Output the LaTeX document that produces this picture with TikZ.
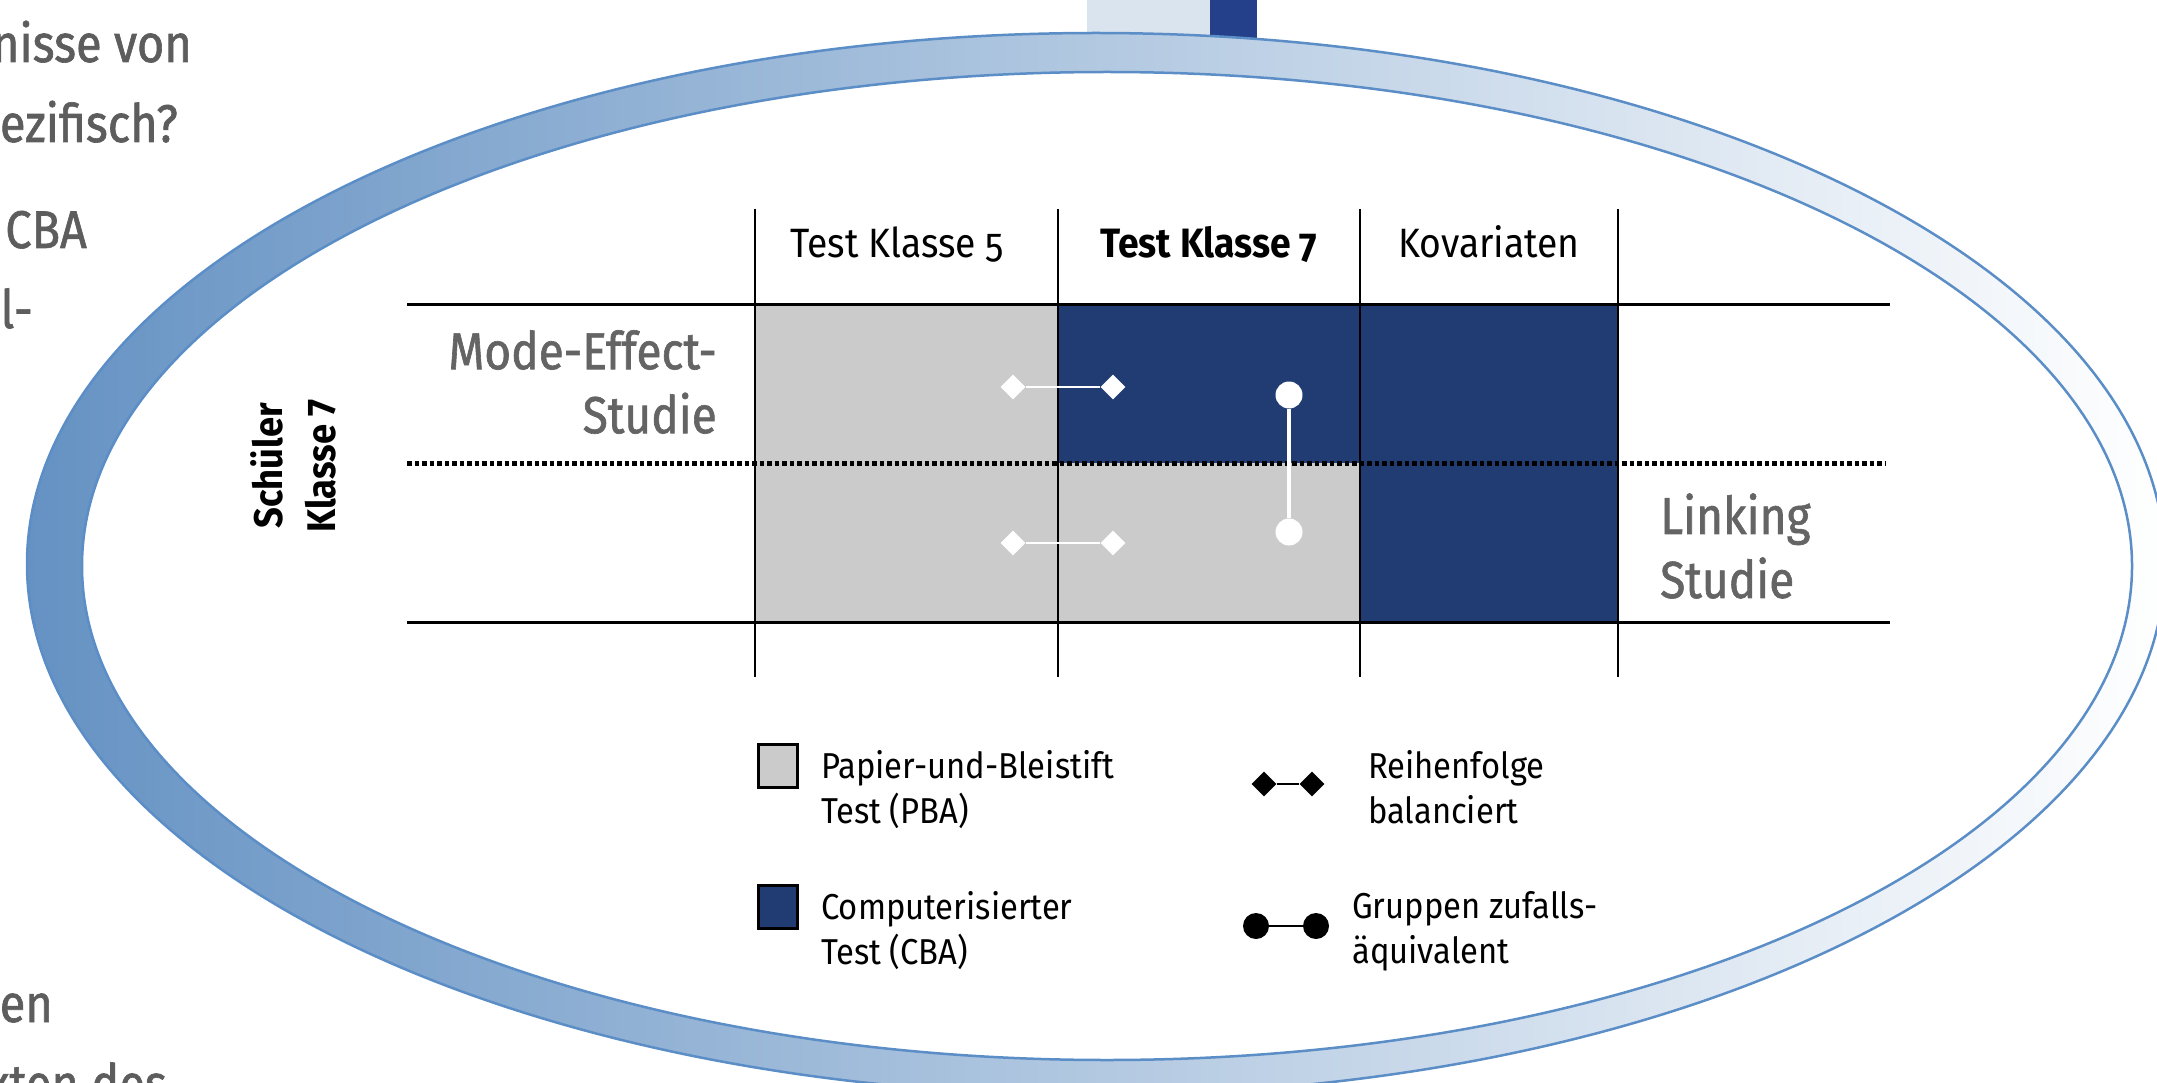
\documentclass[tikz,border=0pt]{standalone}
\usepackage{fontspec}
\setmainfont{Fira Sans}
\newfontfamily\narrowfont[FakeStretch=0.91]{Fira Sans}
\newfontfamily\studyfont[FakeStretch=0.885, FakeBold=1.2]{Fira Sans}
\usetikzlibrary{shapes.geometric}

\definecolor{navycell}{HTML}{203C73}
\definecolor{graycell}{HTML}{CBCBCB}
\definecolor{labelgray}{HTML}{646464}
\definecolor{sidegray}{HTML}{5D5D5D}
\definecolor{ringdark}{HTML}{6592C3}
\definecolor{ringmid}{HTML}{B2C8E2}
\definecolor{ringline}{HTML}{5B8DC6}
\definecolor{barlight}{HTML}{DAE4EF}
\definecolor{bardark}{HTML}{24408A}

\begin{document}
\begin{tikzpicture}[
    x = 1pt, y = -1pt,
    every node/.style = {inner sep = 0pt},
    head/.style = {font = \narrowfont\addfontfeature{Numbers = OldStyle}\fontsize{41}{48}\selectfont, anchor = base},
    study/.style = {font = \studyfont\fontsize{52}{64}\selectfont, text = labelgray},
    key/.style = {font = \narrowfont\fontsize{36}{45}\selectfont, align = left, anchor = west},
    side/.style = {font = \studyfont\fontsize{53}{80}\selectfont, text = sidegray, anchor = base east},
    swatch/.style = {draw, line width = 3pt, minimum width = 39pt, minimum height = 43pt},
    gridline/.style = {line width = 2.5pt},
    white diamond/.style = {diamond, fill = white, minimum width = 25pt, minimum height = 25pt},
    black diamond/.style = {diamond, fill = black, minimum width = 25pt, minimum height = 25pt},
    white dot/.style = {circle, fill = white, minimum size = 27pt},
    black dot/.style = {circle, fill = black, minimum size = 26pt},
  ]
  \useasboundingbox (0,0) rectangle (2157,1083);
  \clip (0,0) rectangle (2157,1083);

  \fill [barlight] (1087,0) rectangle (1210,38);
  \fill [bardark] (1210,0) rectangle (1257,38);

  \shade [left color = ringdark, middle color = ringmid, right color = white, even odd rule]
    (1096,564) ellipse [x radius = 1069pt, y radius = 531pt]
    (1107,566) ellipse [x radius = 1025pt, y radius = 494pt];
  \draw [ringline, line width = 2.5pt]
    (1096,564) ellipse [x radius = 1069pt, y radius = 531pt]
    (1107,566) ellipse [x radius = 1025pt, y radius = 494pt];

  \node [side] (side one) at (192,62) {nisse von};
  \node [side] (side two) at (178,142) {ezifisch?};
  \node [side] (side three) at (87,248) {CBA};
  \node [side] (side four) at (33,328) {l-};
  \node [side] (side five) at (53,1022) {en};
  \node [side] (side six) at (167,1102) {xten des};

  \fill [graycell] (755,304) rectangle (1058,622);
  \fill [graycell] (1058,463) rectangle (1360,622);
  \fill [navycell] (1058,304) rectangle (1360,463);
  \fill [navycell] (1360,304) rectangle (1618,622);

  \foreach \x [count = \i] in {755,1058,1360,1618} {
    \coordinate (col top \i) at (\x,209);
    \coordinate (col bottom \i) at (\x,677);
    \draw [gridline] (col top \i) -- (col bottom \i);
  }
  \draw [line width = 3pt] (407,304) -- (1890,304);
  \draw [line width = 3pt] (407,622) -- (1890,622);
  \draw [line width = 5pt, dash pattern = on 4.5pt off 3pt] (407,463.5) -- (1886,463.5);

  \node [head] (head five) at (897,258) {Test Klasse 5};
  \node [head, font = \narrowfont\bfseries\addfontfeature{Numbers = OldStyle}\fontsize{41}{48}\selectfont] (head seven) at (1209,258) {Test Klasse 7};
  \node [head] (head covariates) at (1489,258) {Kovariaten};

  \node [study, align = right, anchor = east] (mode label) at (717,382) {Mode-Effect-\\Studie};
  \node [study, align = left, anchor = west] (linking label) at (1660,546) {Linking\\Studie};
  \node [font = \narrowfont\bfseries\fontsize{40}{53}\selectfont, align = center, rotate = 90] (pupil label) at (293,466) {Schüler\\Klasse 7};

  \foreach \y/\row in {387/upper, 543/lower} {
    \node [white diamond] (order left \row) at (1013,\y) {};
    \node [white diamond] (order right \row) at (1113,\y) {};
    \draw [white, line width = 1.5pt] (order left \row) -- (order right \row);
  }
  \node [white dot] (group top) at (1289,395) {};
  \node [white dot] (group bottom) at (1289,532) {};
  \draw [white, line width = 4pt] (group top) -- (group bottom);

  \node [swatch, fill = graycell] (pba swatch) at (778,766) {};
  \node [swatch, fill = navycell] (cba swatch) at (778,906.5) {};
  \node [key] (pba text) at (821,790) {Papier-und-Bleistift\\Test (PBA)};
  \node [key] (cba text) at (821,931) {Computerisierter\\Test (CBA)};

  \node [black diamond] (order left key) at (1264,784) {};
  \node [black diamond] (order right key) at (1312,784) {};
  \draw [line width = 2pt] (order left key) -- (order right key);
  \node [key] (order text) at (1368,787) {Reihenfolge\\balanciert};

  \node [black dot] (group left key) at (1256,926) {};
  \node [black dot] (group right key) at (1316,926) {};
  \draw [line width = 2.5pt] (group left key) -- (group right key);
  \node [key] (group text) at (1352,931) {Gruppen zufalls-\\äquivalent};
\end{tikzpicture}
\end{document}
